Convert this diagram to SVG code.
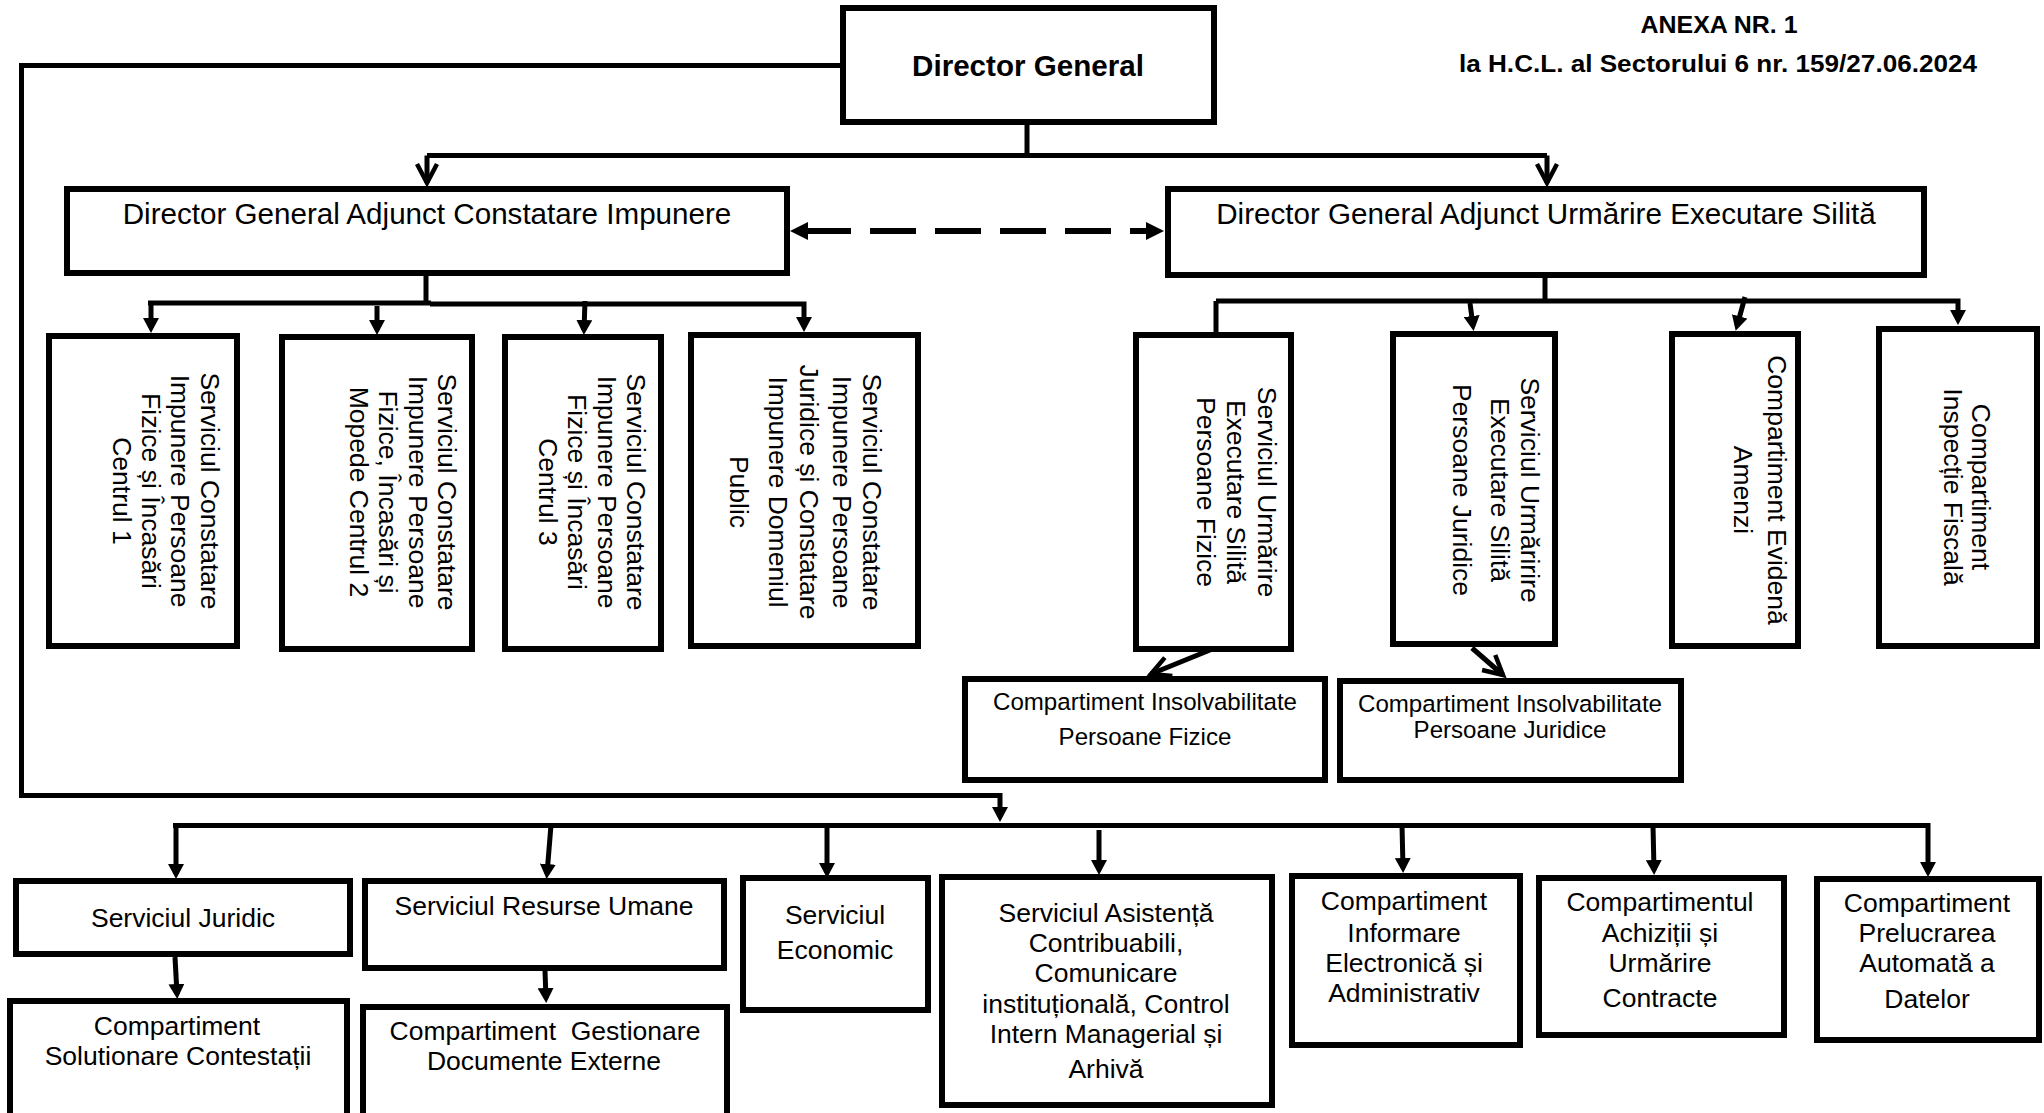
<svg xmlns="http://www.w3.org/2000/svg" width="2044" height="1113" viewBox="0 0 2044 1113">
<style>
.box{fill:#fff;stroke:#000;stroke-width:6}
.ln{fill:none;stroke:#000;stroke-width:5}
.t{font-family:"Liberation Sans",Arial,sans-serif;font-size:26.5px;fill:#000;text-anchor:middle}
.b{font-weight:bold}
.hd{font-size:24px}
.ttl{font-size:29.6px}
.sm{font-size:24.1px}
</style>
<defs>
<marker id="tri" viewBox="0 0 15 16" refX="10" refY="8" markerWidth="15" markerHeight="16" orient="auto" markerUnits="userSpaceOnUse"><path d="M0,0 L15,8 L0,16 z" fill="#000"/></marker>
<marker id="vee" viewBox="0 0 24 24" refX="21" refY="12" markerWidth="24" markerHeight="24" orient="auto" markerUnits="userSpaceOnUse" overflow="visible"><path d="M2,2 L21,12 L2,22" fill="none" stroke="#000" stroke-width="4.5"/></marker>
</defs>
<rect width="2044" height="1113" fill="#fff"/>

<g id="header">
<text class="t b hd" x="1719" y="33" textLength="157" lengthAdjust="spacingAndGlyphs">ANEXA NR. 1</text>
<text class="t b hd" x="1718" y="72" textLength="518" lengthAdjust="spacingAndGlyphs">la H.C.L. al Sectorului 6 nr. 159/27.06.2024</text>
</g>

<g id="connectors">
<path class="ln" d="M840,65.5 H21.5 V795.5 H1000 V817" marker-end="url(#tri)"/>
<path class="ln" d="M1027,125 V155.5"/>
<path class="ln" d="M427,155.5 H1547"/>
<path class="ln" d="M427,155.5 V183" marker-end="url(#vee)"/>
<path class="ln" d="M1547,155.5 V183" marker-end="url(#vee)"/>
<path d="M807,231 H1148" fill="none" stroke="#000" stroke-width="6" stroke-dasharray="44 19 46 19 46 19 46 19 46 19 46 19"/>
<polygon points="790,231 808,222 808,240" fill="#000"/>
<polygon points="1164,231 1146,222 1146,240" fill="#000"/>
<path class="ln" d="M426,276 V303"/>
<path class="ln" d="M148,303 H431" stroke-width="6"/>
<path class="ln" d="M430,304 H804 V327" stroke-width="4.5" marker-end="url(#tri)"/>
<path class="ln" d="M151,303 V328" marker-end="url(#tri)"/>
<path class="ln" d="M377,306 V330" marker-end="url(#tri)"/>
<path class="ln" d="M585,301 L584,330" marker-end="url(#tri)"/>
<path class="ln" d="M1545,278 V301"/>
<path class="ln" d="M1216,301 H1958 V320" marker-end="url(#tri)"/>
<path class="ln" d="M1216,301 V375" marker-end="url(#tri)"/>
<path class="ln" d="M1470,303 L1473,326" marker-end="url(#tri)"/>
<path class="ln" d="M1745,297 L1737,326" marker-end="url(#tri)"/>
<path class="ln" d="M1210,650 L1151,674" stroke-width="5.5" marker-end="url(#vee)"/>
<path class="ln" d="M1472,648 L1503,675" stroke-width="5.5" marker-end="url(#vee)"/>
<path class="ln" d="M173,825.5 H935" stroke-width="6"/>
<path class="ln" d="M935,825.5 H1928 V872" stroke-width="4.5" marker-end="url(#tri)"/>
<path class="ln" d="M176,825 V874" marker-end="url(#tri)"/>
<path class="ln" d="M551,825 L547,874" marker-end="url(#tri)"/>
<path class="ln" d="M827,825 V873" marker-end="url(#tri)"/>
<path class="ln" d="M1099,830 V870" marker-end="url(#tri)"/>
<path class="ln" d="M1402,825 L1403,868" marker-end="url(#tri)"/>
<path class="ln" d="M1653,825 L1654,870" marker-end="url(#tri)"/>
<path class="ln" d="M175,957 L177,994" marker-end="url(#tri)"/>
<path class="ln" d="M545,971 L546,998" marker-end="url(#tri)"/>
</g>

<g id="dg">
<rect class="box" x="843" y="8" width="371" height="114"/>
<text class="t b ttl" x="1028" y="76">Director General</text>
</g>

<g id="adj-constatare">
<rect class="box" x="67" y="189" width="720" height="84"/>
<text class="t ttl" x="427" y="224">Director General Adjunct Constatare Impunere</text>
</g>

<g id="adj-urmarire">
<rect class="box" x="1168" y="189" width="756" height="86"/>
<text class="t ttl" x="1546" y="224">Director General Adjunct Urmărire Executare Silită</text>
</g>

<g id="sc-c1">
<rect class="box" x="49" y="336" width="188" height="310"/>
<text class="t" transform="translate(200.5,491) rotate(90)"><tspan x="0" y="0">Serviciul Constatare</tspan><tspan x="0" y="29.3">Impunere Persoane</tspan><tspan x="0" y="58.6">Fizice și Încasări</tspan><tspan x="0" y="87.9">Centrul 1</tspan></text>
</g>

<g id="sc-c2">
<rect class="box" x="282" y="337" width="190" height="312"/>
<text class="t" transform="translate(438,492) rotate(90)"><tspan x="0" y="0">Serviciul Constatare</tspan><tspan x="0" y="29.3">Impunere Persoane</tspan><tspan x="0" y="58.6">Fizice, Încasări și</tspan><tspan x="0" y="87.9">Mopede Centrul 2</tspan></text>
</g>

<g id="sc-c3">
<rect class="box" x="505" y="337" width="156" height="312"/>
<text class="t" transform="translate(627,492) rotate(90)"><tspan x="0" y="0">Serviciul Constatare</tspan><tspan x="0" y="29.3">Impunere Persoane</tspan><tspan x="0" y="58.6">Fizice și Încasări</tspan><tspan x="0" y="87.9">Centrul 3</tspan></text>
</g>

<g id="sc-pj">
<rect class="box" x="691" y="335" width="227" height="311"/>
<text class="t" transform="translate(863,492) rotate(90)"><tspan x="0" y="0">Serviciul Constatare</tspan><tspan x="0" y="30">Impunere Persoane</tspan><tspan x="0" y="63">Juridice și Constatare</tspan><tspan x="0" y="94">Impunere Domeniul</tspan><tspan x="0" y="133">Public</tspan></text>
</g>

<g id="sues-pf">
<rect class="box" x="1136" y="335" width="155" height="314"/>
<text class="t" transform="translate(1258,492) rotate(90)"><tspan x="0" y="0">Serviciul Urmărire</tspan><tspan x="0" y="31">Executare Silită</tspan><tspan x="0" y="61">Persoane Fizice</tspan></text>
</g>

<g id="sues-pj">
<rect class="box" x="1393" y="334" width="162" height="310"/>
<text class="t" transform="translate(1521,490) rotate(90)"><tspan x="0" y="0">Serviciul Urmăririre</tspan><tspan x="0" y="30">Executare Silită</tspan><tspan x="0" y="68">Persoane Juridice</tspan></text>
</g>

<g id="comp-amenzi">
<rect class="box" x="1672" y="334" width="126" height="312"/>
<text class="t" transform="translate(1768,490) rotate(90)"><tspan x="0" y="0">Compartiment Evidenă</tspan><tspan x="0" y="34">Amenzi</tspan></text>
</g>

<g id="comp-inspectie">
<rect class="box" x="1879" y="329" width="158" height="317"/>
<text class="t" transform="translate(1972,487) rotate(90)"><tspan x="0" y="0">Compartiment</tspan><tspan x="0" y="28">Inspecție Fiscală</tspan></text>
</g>

<g id="insolv-pf">
<rect class="box" x="965" y="679" width="360" height="101"/>
<text class="t sm"><tspan x="1145" y="710">Compartiment Insolvabilitate</tspan><tspan x="1145" y="745">Persoane Fizice</tspan></text>
</g>

<g id="insolv-pj">
<rect class="box" x="1340" y="681" width="341" height="99"/>
<text class="t sm"><tspan x="1510" y="712">Compartiment Insolvabilitate</tspan><tspan x="1510" y="738">Persoane Juridice</tspan></text>
</g>

<g id="juridic">
<rect class="box" x="16" y="881" width="334" height="73"/>
<text class="t" x="183" y="927">Serviciul Juridic</text>
</g>

<g id="contestatii">
<rect class="box" x="10" y="1001" width="337" height="130"/>
<text class="t"><tspan x="177" y="1035">Compartiment</tspan><tspan x="178" y="1065">Solutionare Contestații</tspan></text>
</g>

<g id="resurse">
<rect class="box" x="365" y="881" width="359" height="87"/>
<text class="t" x="544" y="915">Serviciul Resurse Umane</text>
</g>

<g id="gestionare">
<rect class="box" x="363" y="1007" width="364" height="130"/>
<text class="t"><tspan x="545" y="1040">Compartiment&#160; Gestionare</tspan><tspan x="544" y="1070">Documente Externe</tspan></text>
</g>

<g id="economic">
<rect class="box" x="743" y="878" width="185" height="132"/>
<text class="t"><tspan x="835" y="924">Serviciul</tspan><tspan x="835" y="959">Economic</tspan></text>
</g>

<g id="asistenta">
<rect class="box" x="942" y="877" width="330" height="228"/>
<text class="t"><tspan x="1106" y="922">Serviciul Asistență</tspan><tspan x="1106" y="952">Contribuabili,</tspan><tspan x="1106" y="982">Comunicare</tspan><tspan x="1106" y="1013">instituțională, Control</tspan><tspan x="1106" y="1043">Intern Managerial și</tspan><tspan x="1106" y="1078">Arhivă</tspan></text>
</g>

<g id="informare">
<rect class="box" x="1292" y="876" width="228" height="169"/>
<text class="t"><tspan x="1404" y="910">Compartiment</tspan><tspan x="1404" y="942">Informare</tspan><tspan x="1404" y="972">Electronică și</tspan><tspan x="1404" y="1002">Administrativ</tspan></text>
</g>

<g id="achizitii">
<rect class="box" x="1539" y="878" width="245" height="157"/>
<text class="t"><tspan x="1660" y="911">Compartimentul</tspan><tspan x="1660" y="942">Achiziții și</tspan><tspan x="1660" y="972">Urmărire</tspan><tspan x="1660" y="1007">Contracte</tspan></text>
</g>

<g id="prelucrare">
<rect class="box" x="1817" y="879" width="222" height="161"/>
<text class="t"><tspan x="1927" y="912">Compartiment</tspan><tspan x="1927" y="942">Prelucrarea</tspan><tspan x="1927" y="972">Automată a</tspan><tspan x="1927" y="1008">Datelor</tspan></text>
</g>
</svg>
